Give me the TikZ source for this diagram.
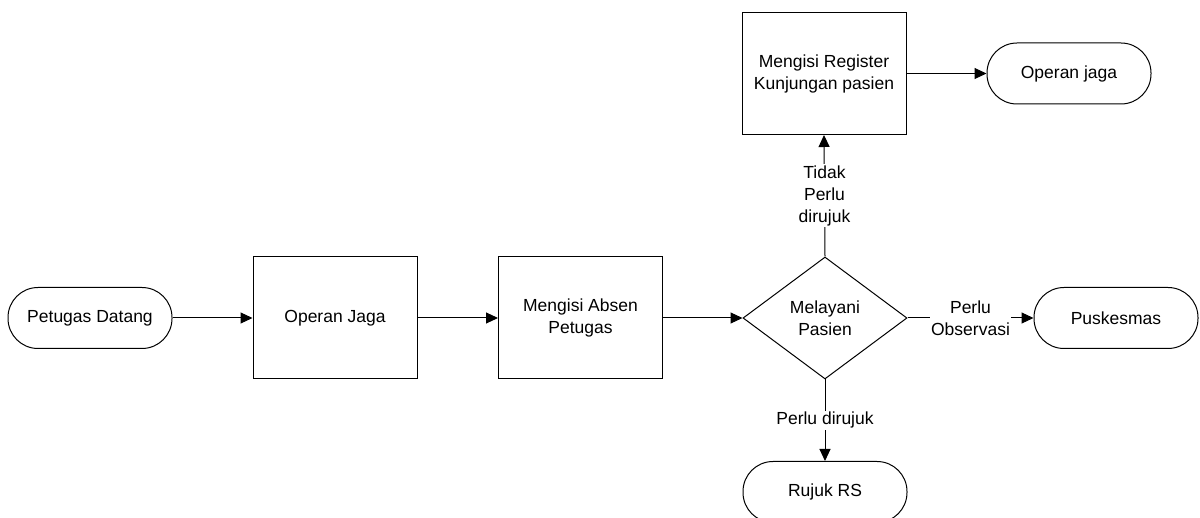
\documentclass[tikz,border=0pt]{standalone}
\usepackage{fontspec}
\setmainfont{Liberation Sans}
\usetikzlibrary{shapes.geometric,arrows.meta}
\begin{document}
\begin{tikzpicture}[x=1pt,y=-1pt,
  every node/.style={font=\fontsize{17.5}{22}\selectfont},
  base/.style={draw=black,line width=1pt,inner sep=0pt,align=center},
  procbox/.style={base,rectangle,minimum width=164pt,minimum height=122pt},
  termbox/.style={base,rectangle,rounded corners=30pt,minimum width=164pt,minimum height=61pt},
  decbox/.style={base,diamond,minimum width=164pt,minimum height=122pt},
  flow/.style={line width=1pt,-{Triangle[length=12pt,width=11pt]}},
  lbl/.style={fill=white,inner sep=1.5pt,align=center}]
\useasboundingbox (0,0) rectangle (1200,518);
\clip (0,0) rectangle (1200,518);
\fill[white] (0,0) rectangle (1200,518);
\node[termbox] (pd) at (90,318) {Petugas Datang};
\node[procbox] (oj) at (335,318) {Operan Jaga};
\node[procbox] (ma) at (580.5,318) {Mengisi Absen\\Petugas};
\node[decbox] (mp) at (825,318) {Melayani\\Pasien};
\node[termbox] (pk) at (1116,318) {Puskesmas};
\node[procbox] (mr) at (824,73.5) {Mengisi Register\\Kunjungan pasien};
\node[termbox] (oj2) at (1069,73.5) {Operan jaga};
\node[termbox] (rr) at (825,492) {Rujuk RS};
\draw[flow] (pd) -- (oj);
\draw[flow] (oj) -- (ma);
\draw[flow] (ma) -- (mp);
\draw[flow] (mp.east) -- node[lbl] {Perlu\\Observasi} (pk.west);
\draw[flow] (mp.north) -- node[lbl] {Tidak\\Perlu\\dirujuk} (mr.south);
\draw[flow] (mr) -- (oj2);
\draw[flow] (mp.south) -- node[lbl] {Perlu dirujuk} (rr.north);
\end{tikzpicture}
\end{document}
